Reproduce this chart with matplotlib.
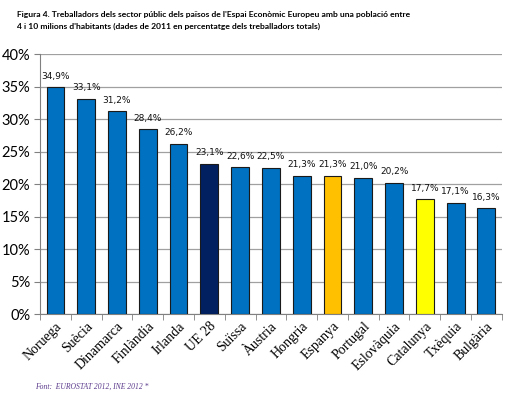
import matplotlib
matplotlib.use("Agg")
import matplotlib.pyplot as plt
import numpy as np

countries = ["Noruega", "Suècia", "Dinamarca", "Finlàndia", "Irlanda", "UE 28", "Suïssa",
             "Àustria", "Hongria", "Espanya", "Portugal", "Eslovàquia", "Catalunya", "Txèquia", "Bulgària"]
values = [34.9, 33.1, 31.2, 28.4, 26.2, 23.1, 22.6, 22.5, 21.3, 21.3, 21.0, 20.2, 17.7, 17.1, 16.3]
labels = ["34,9%", "33,1%", "31,2%", "28,4%", "26,2%", "23,1%", "22,6%", "22,5%", "21,3%", "21,3%",
          "21,0%", "20,2%", "17,7%", "17,1%", "16,3%"]
yticks = [0, 5, 10, 15, 20, 25, 30, 35, 40]

special = {"UE 28": "#002060", "Espanya": "#FFC000", "Catalunya": "#FFFF00"}
colors = [special.get(c, "#0070C0") for c in countries]

fig = plt.figure(figsize=(5.2, 3.95), dpi=100)
ax = fig.add_axes([0.077, 0.205, 0.888, 0.658])

x = np.arange(len(countries))
ax.bar(x, values, width=0.58, color=colors, edgecolor="#1a1a1a", linewidth=0.8, zorder=3)
for xi, v, l in zip(x, values, labels):
    ax.text(xi, v + 1.0, l, ha="center", va="bottom", fontsize=6.5, family="DejaVu Sans", color="#111111")

ax.set_xlim(-0.5, len(countries) - 0.5)
ax.set_ylim(0, 40)
ax.set_yticks(yticks)
ax.set_yticklabels([f"{t}%" for t in yticks], fontsize=10.5, family="Lato")
ax.yaxis.grid(True, color="#a0a0a0", linewidth=0.9, zorder=0)
ax.set_axisbelow(True)

ax.set_xticks(x)
ax.set_xticklabels(countries, rotation=45, ha="right", rotation_mode="anchor",
                   fontsize=10, family="Liberation Serif")
ax.tick_params(axis="x", length=0, pad=4)
ax.set_xticks(np.arange(-0.5, len(countries), 1), minor=True)
ax.tick_params(axis="x", which="minor", length=4, color="#808080")
ax.tick_params(axis="y", length=4, color="#808080", pad=3)

for s in ["top", "right"]:
    ax.spines[s].set_visible(False)
ax.spines["left"].set_color("#808080")
ax.spines["bottom"].set_color("#808080")

fig.text(0.033, 0.972, "Figura 4. Treballadors dels sector públic dels països de l'Espai Econòmic Europeu amb una població entre",
         fontsize=6.1, family="Lato", fontweight="bold", va="top", ha="left")
fig.text(0.033, 0.942, "4 i 10 milions d'habitants (dades de 2011 en percentatge dels treballadors totals)",
         fontsize=6.1, family="Lato", fontweight="bold", va="top", ha="left")
fig.text(0.067, 0.02, "Font:  EUROSTAT 2012, INE 2012 *", fontsize=5.5, family="Liberation Serif",
         style="italic", color="#5B3A8C", va="center", ha="left")

fig.savefig("out.png", dpi=100)
